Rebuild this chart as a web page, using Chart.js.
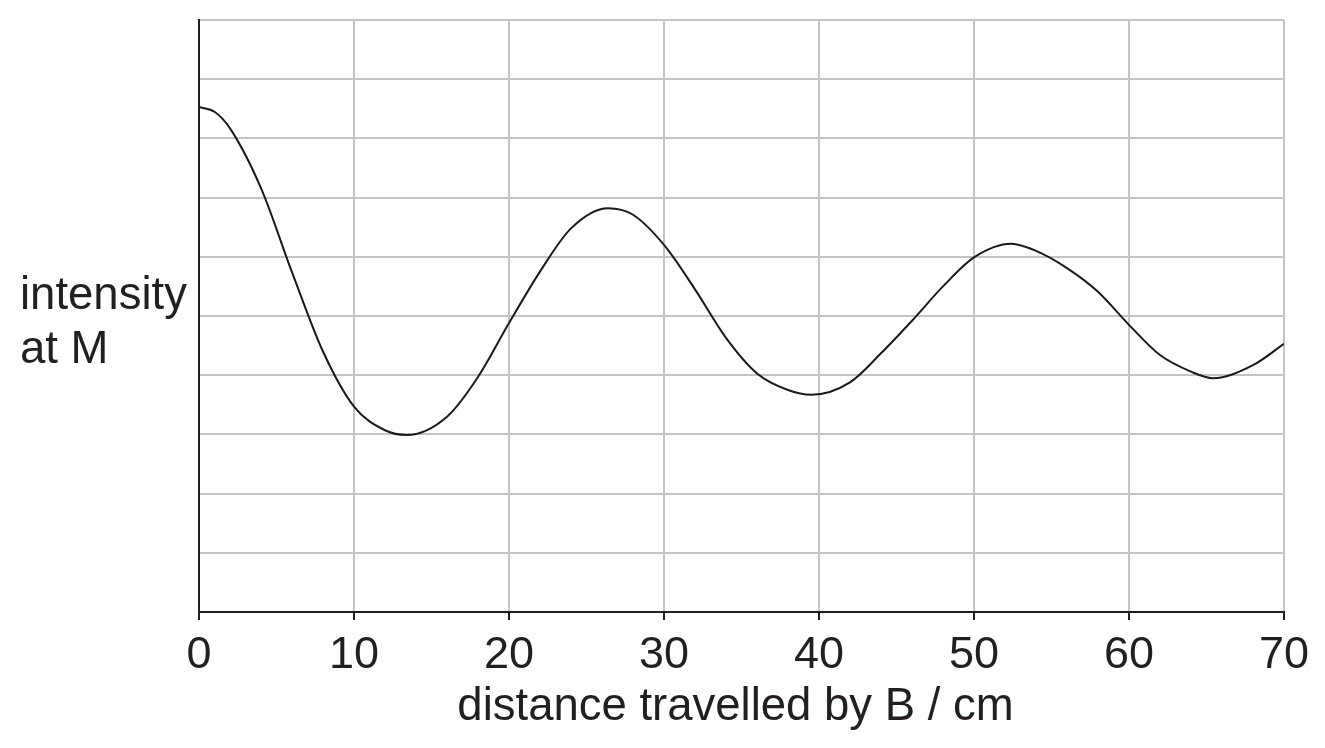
<!DOCTYPE html>
<html>
<head>
<meta charset="utf-8">
<script src="https://cdn.jsdelivr.net/npm/chart.js@4"></script>
<style>
  html, body { margin: 0; padding: 0; background: #fff; }
  #wrap { position: relative; width: 1325px; height: 748px; }
</style>
</head>
<body>
<div id="wrap"><canvas id="intensity-chart" width="1325" height="748"></canvas></div>
<script>
// distance travelled by B (cm) and intensity at M (grid units)
const distance = [0, 1, 2, 4, 6, 8, 10, 12, 13.4, 16, 18, 20, 22, 24, 26.4, 28, 30, 32, 34, 36, 38, 39.5, 42, 44, 46, 48, 50, 52.4, 54, 56, 58, 60, 62, 64, 65.4, 68, 70];
const intensity = [8.53, 8.45, 8.17, 7.16, 5.74, 4.40, 3.47, 3.07, 2.99, 3.30, 3.97, 4.88, 5.75, 6.48, 6.82, 6.71, 6.20, 5.45, 4.63, 4.03, 3.75, 3.67, 3.88, 4.37, 4.92, 5.50, 5.99, 6.22, 6.10, 5.81, 5.41, 4.85, 4.34, 4.06, 3.95, 4.17, 4.53];
const xTicks = [0, 10, 20, 30, 40, 50, 60, 70];
const yLabelLines = ['intensity', 'at M'];
const xTitle = 'distance travelled by B / cm';

const FONT = "'Liberation Sans', Arial, sans-serif";
const INK = '#231f20';

const points = distance.map((d, i) => ({ x: d, y: intensity[i] }));

// axis labels: horizontal one beside the plot, and the x title under the ticks
const axisLabels = {
    id: 'axisLabels',
    afterDraw(chart) {
        const c = chart.ctx;
        c.save();
        c.font = '45.5px ' + FONT;
        c.fillStyle = INK;
        c.textBaseline = 'alphabetic';
        c.textAlign = 'left';
        c.fillText(yLabelLines[0], 20, 309);
        c.fillText(yLabelLines[1], 20, 363);
        c.textAlign = 'center';
        c.fillText(xTitle, 735.5, 720);
        c.restore();
    }
};

new Chart(document.getElementById('intensity-chart'), {
    type: 'line',
    data: {
        datasets: [{
            data: points,
            borderColor: '#1a1a1a',
            borderWidth: 2,
            pointRadius: 0,
            cubicInterpolationMode: 'monotone',
            fill: false
        }]
    },
    options: {
        responsive: false,
        animation: false,
        layout: { padding: { top: 20, right: 41, left: 0, bottom: 0 } },
        plugins: { legend: { display: false }, tooltip: { enabled: false } },
        scales: {
            x: {
                type: 'linear',
                min: 0,
                max: 70,
                afterBuildTicks: (axis) => { axis.ticks = xTicks.map(v => ({ value: v })); },
                afterFit: (axis) => { axis.height = 136; },
                grid: {
                    color: '#c4c4c4',
                    lineWidth: 2,
                    tickColor: INK,
                    tickLength: 8
                },
                border: { color: INK, width: 2 },
                ticks: {
                    color: INK,
                    font: { family: FONT, size: 45 },
                    padding: 9,
                    maxRotation: 0
                }
            },
            y: {
                min: 0,
                max: 10,
                ticks: { display: false, stepSize: 1 },
                afterFit: (axis) => { axis.width = 199; },
                grid: { color: '#c4c4c4', lineWidth: 2, drawTicks: false },
                border: { color: INK, width: 2 }
            }
        }
    },
    plugins: [axisLabels]
});
</script>
</body>
</html>
